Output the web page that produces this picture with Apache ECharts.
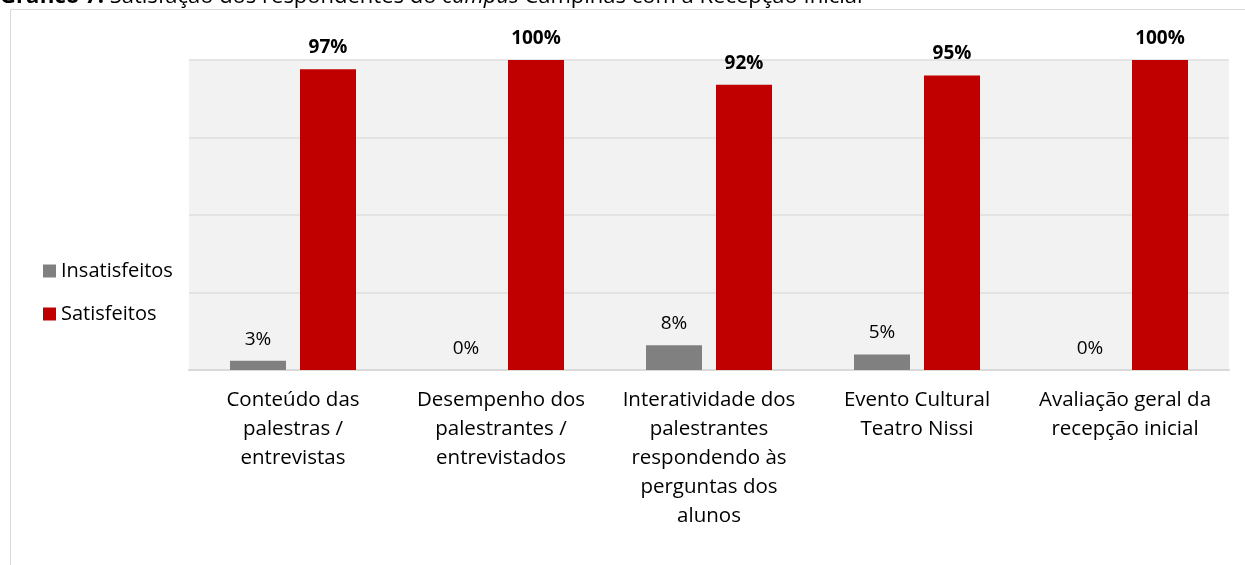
<!DOCTYPE html>
<html>
<head>
<meta charset="utf-8">
<script src="https://cdn.jsdelivr.net/npm/echarts@6/dist/echarts.min.js"></script>
<style>
  html, body { margin: 0; padding: 0; background: #ffffff; }
  #main { width: 1245px; height: 565px; }
</style>
</head>
<body>
<div id="main"></div>
<script>
// categorias e valores (%)
var categories = [
  'Conteúdo das\npalestras /\nentrevistas',
  'Desempenho dos\npalestrantes /\nentrevistados',
  'Interatividade dos\npalestrantes\nrespondendo às\nperguntas dos\nalunos',
  'Evento Cultural\nTeatro Nissi',
  'Avaliação geral da\nrecepção inicial'
]
var seriesNames = ['Insatisfeitos', 'Satisfeitos']
var insatisfeitos = [3, 0, 8, 5, 0]
var satisfeitos = [97, 100, 92, 95, 100]

var font = 'Open Sans'
var myChart = echarts.init(document.getElementById('main'))

myChart.setOption({
  animation: false,
  textStyle: { fontFamily: font },
  graphic: [
    {
      type: 'rect',
      shape: { x: 10.5, y: 9.5, width: 1250, height: 600 },
      style: { fill: 'none', stroke: '#d9d9d9', lineWidth: 1 },
      z: -10
    },
    {
      type: 'text',
      left: 0,
      top: -14,
      style: {
        text: '{b|Gráfico 7:} Satisfação dos respondentes do {i|campus} Campinas com a Recepção Inicial',
        fontFamily: font,
        fontSize: 22,
        fill: '#000',
        rich: {
          b: { fontWeight: 'bold', fontSize: 22, fontFamily: font },
          i: { fontStyle: 'italic', fontSize: 22, fontFamily: font }
        }
      }
    }
  ],
  legend: {
    orient: 'vertical',
    left: 38,
    top: 255,
    itemWidth: 13,
    itemHeight: 13,
    itemGap: 21,
    icon: 'rect',
    textStyle: { fontSize: 20, color: '#000', fontFamily: font, lineHeight: 22 },
    data: seriesNames
  },
  grid: {
    left: 189,
    right: 16,
    top: 60,
    bottom: 195,
    show: true,
    backgroundColor: '#f2f2f2',
    borderWidth: 0
  },
  xAxis: {
    type: 'category',
    data: categories,
    axisTick: { show: false },
    axisLine: { lineStyle: { color: '#d9d9d9', width: 2 } },
    axisLabel: {
      interval: 0,
      color: '#000',
      fontSize: 20.5,
      lineHeight: 29,
      margin: 16,
      fontFamily: font
    }
  },
  yAxis: {
    type: 'value',
    min: 0,
    max: 100,
    interval: 25,
    axisLabel: { show: false },
    axisLine: { show: false },
    axisTick: { show: false },
    splitLine: { lineStyle: { color: '#dedede', width: 1.5 } }
  },
  series: [
    {
      name: seriesNames[0],
      type: 'bar',
      data: insatisfeitos,
      barWidth: 56,
      barGap: '25%',
      itemStyle: { color: '#808080' },
      label: {
        show: true,
        position: 'top',
        distance: 12,
        formatter: '{c}%',
        fontSize: 19,
        color: '#000',
        fontFamily: font
      }
    },
    {
      name: seriesNames[1],
      type: 'bar',
      data: satisfeitos,
      barWidth: 56,
      itemStyle: { color: '#c00000' },
      label: {
        show: true,
        position: 'top',
        distance: 12,
        formatter: '{c}%',
        fontSize: 19,
        fontWeight: 'bold',
        color: '#000',
        fontFamily: font
      }
    }
  ]
})
</script>
</body>
</html>
